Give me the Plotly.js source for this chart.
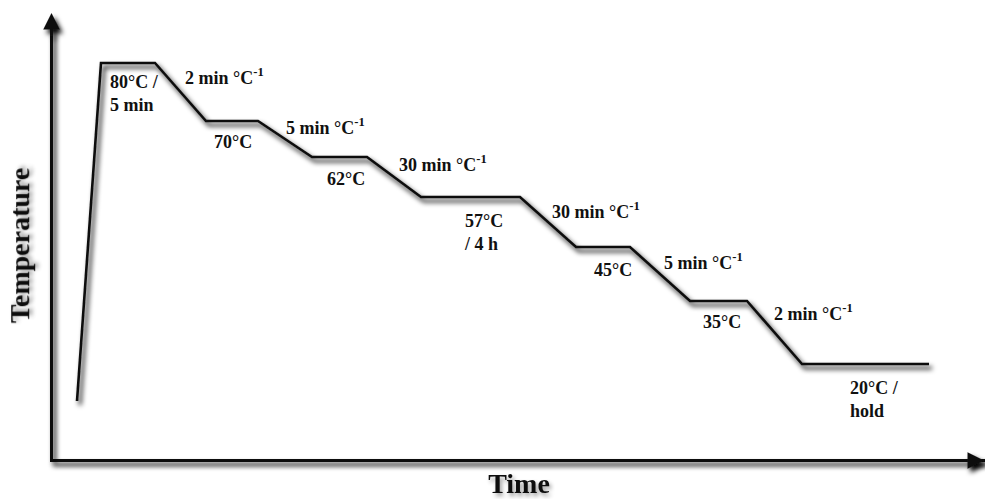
<!DOCTYPE html>
<html>
<head>
<meta charset="utf-8">
<script src="https://cdn.plot.ly/plotly-3.0.1.min.js"></script>
<style>
  html, body { margin: 0; padding: 0; background: #ffffff; }
  #chart { width: 985px; height: 499px; }
</style>
</head>
<body>
<div id="chart"></div>
<script>
// Schematic annealing profile (time in schematic units, temperature level in schematic units)
const timeUnits = [77, 101, 155, 206, 258, 312, 367, 421, 520, 576, 630, 690, 747, 802, 929];
const tempLevel = [98, 436, 436, 378, 378, 342, 342, 302, 302, 252, 252, 198, 198, 135, 135];

// Step labels
const stepLabels = [
  '80°C /<br>5 min',
  '2 min °C<sup>-1</sup>',
  '70°C',
  '5 min °C<sup>-1</sup>',
  '62°C',
  '30 min °C<sup>-1</sup>',
  '57°C<br>/ 4 h',
  '30 min °C<sup>-1</sup>',
  '45°C',
  '5 min °C<sup>-1</sup>',
  '35°C',
  '2 min °C<sup>-1</sup>',
  '20°C /<br>hold'
];

const xTitle = 'Time';
const yTitle = 'Temperature';

// Label placement (layout only)
const labelPlacement = [
  {x: 108, y: 405.5, anchor: 'left'},
  {x: 183, y: 423, anchor: 'left'},
  {x: 232.5, y: 357, anchor: 'center'},
  {x: 284, y: 373, anchor: 'left'},
  {x: 346, y: 320, anchor: 'center'},
  {x: 397, y: 336, anchor: 'left'},
  {x: 462, y: 266.5, anchor: 'left'},
  {x: 550, y: 289, anchor: 'left'},
  {x: 613, y: 229, anchor: 'center'},
  {x: 662, y: 238, anchor: 'left'},
  {x: 722, y: 177, anchor: 'center'},
  {x: 772, y: 187, anchor: 'left'},
  {x: 848, y: 100, anchor: 'left'}
];

const serif = 'Liberation Serif, Times New Roman, serif';
const ink = '#111111';

const annotations = stepLabels.map((t, i) => ({
  x: labelPlacement[i].x,
  y: labelPlacement[i].y,
  xref: 'x', yref: 'y',
  text: t,
  showarrow: false,
  xanchor: labelPlacement[i].anchor,
  yanchor: 'middle',
  align: 'left',
  font: {family: serif, size: 18, color: ink, weight: 'bold'}
}));

// axis arrowheads (paper-referenced, tails given in pixels)
annotations.push({
  x: 1.0115, y: -0.0035, xref: 'paper', yref: 'paper', ax: -24, ay: 0,
  text: '', showarrow: true, arrowhead: 2, arrowsize: 1.1, arrowwidth: 3, arrowcolor: ink, standoff: 0
});
annotations.push({
  x: -0.0016, y: 1.0445, xref: 'paper', yref: 'paper', ax: 0, ay: 24,
  text: '', showarrow: true, arrowhead: 2, arrowsize: 1.1, arrowwidth: 3, arrowcolor: ink, standoff: 0
});

const trace = {
  x: timeUnits,
  y: tempLevel,
  type: 'scatter',
  mode: 'lines',
  line: {color: ink, width: 2.6},
  hoverinfo: 'skip',
  cliponaxis: false
};

const axisCommon = {
  showgrid: false,
  zeroline: false,
  showticklabels: false,
  ticks: '',
  showline: true,
  linewidth: 3,
  linecolor: ink,
  fixedrange: true
};

const layout = {
  width: 985,
  height: 499,
  margin: {l: 53, r: 0, t: 32, b: 40},
  paper_bgcolor: '#ffffff',
  plot_bgcolor: 'rgba(0,0,0,0)',
  showlegend: false,
  xaxis: Object.assign({}, axisCommon, {
    range: [53, 985],
    title: {text: xTitle, standoff: 14, font: {family: serif, size: 28, color: ink, weight: 'bold'}}
  }),
  yaxis: Object.assign({}, axisCommon, {
    range: [40, 467],
    title: {text: yTitle, standoff: 13, font: {family: serif, size: 28, color: ink, weight: 'bold'}}
  }),
  annotations: annotations
};

const SVGNS = 'http://www.w3.org/2000/svg';
function makeShadow(defs, id, dx, dy, std, alpha) {
  const f = document.createElementNS(SVGNS, 'filter');
  f.setAttribute('id', id);
  f.setAttribute('filterUnits', 'userSpaceOnUse');
  f.setAttribute('x', '-200'); f.setAttribute('y', '-200');
  f.setAttribute('width', '1600'); f.setAttribute('height', '1000');
  const blur = document.createElementNS(SVGNS, 'feGaussianBlur');
  blur.setAttribute('in', 'SourceAlpha'); blur.setAttribute('stdDeviation', std);
  const off = document.createElementNS(SVGNS, 'feOffset');
  off.setAttribute('dx', dx); off.setAttribute('dy', dy);
  const ct = document.createElementNS(SVGNS, 'feComponentTransfer');
  const fa = document.createElementNS(SVGNS, 'feFuncA');
  fa.setAttribute('type', 'linear'); fa.setAttribute('slope', alpha);
  ct.appendChild(fa);
  const merge = document.createElementNS(SVGNS, 'feMerge');
  const m1 = document.createElementNS(SVGNS, 'feMergeNode');
  const m2 = document.createElementNS(SVGNS, 'feMergeNode');
  m2.setAttribute('in', 'SourceGraphic');
  merge.appendChild(m1); merge.appendChild(m2);
  f.appendChild(blur); f.appendChild(off); f.appendChild(ct); f.appendChild(merge);
  defs.appendChild(f);
}

Plotly.newPlot('chart', [trace], layout, {staticPlot: true, displayModeBar: false}).then(gd => {
  const svgs = gd.querySelectorAll('svg.main-svg');
  svgs.forEach((svg, k) => {
    let defs = svg.querySelector('defs');
    if (!defs) { defs = document.createElementNS(SVGNS, 'defs'); svg.insertBefore(defs, svg.firstChild); }
    makeShadow(defs, 'lineShadow' + k, 3, 4, 2.4, 1.0);
    makeShadow(defs, 'textShadow' + k, 2, 3, 2, 0.4);
  });
  const ownerIdx = el => Array.prototype.indexOf.call(svgs, el.ownerSVGElement);
  const lineSel = ['.scatterlayer .js-line', 'path.xlines-above', 'path.ylines-above', '.annotation-arrow-g'];
  lineSel.forEach(sel => gd.querySelectorAll(sel).forEach(el => {
    el.setAttribute('filter', 'url(#lineShadow' + ownerIdx(el) + ')');
  }));
  ['.g-xtitle text', '.g-ytitle text'].forEach(sel => gd.querySelectorAll(sel).forEach(el => {
    el.setAttribute('filter', 'url(#textShadow' + ownerIdx(el) + ')');
  }));
});
</script>
</body>
</html>
